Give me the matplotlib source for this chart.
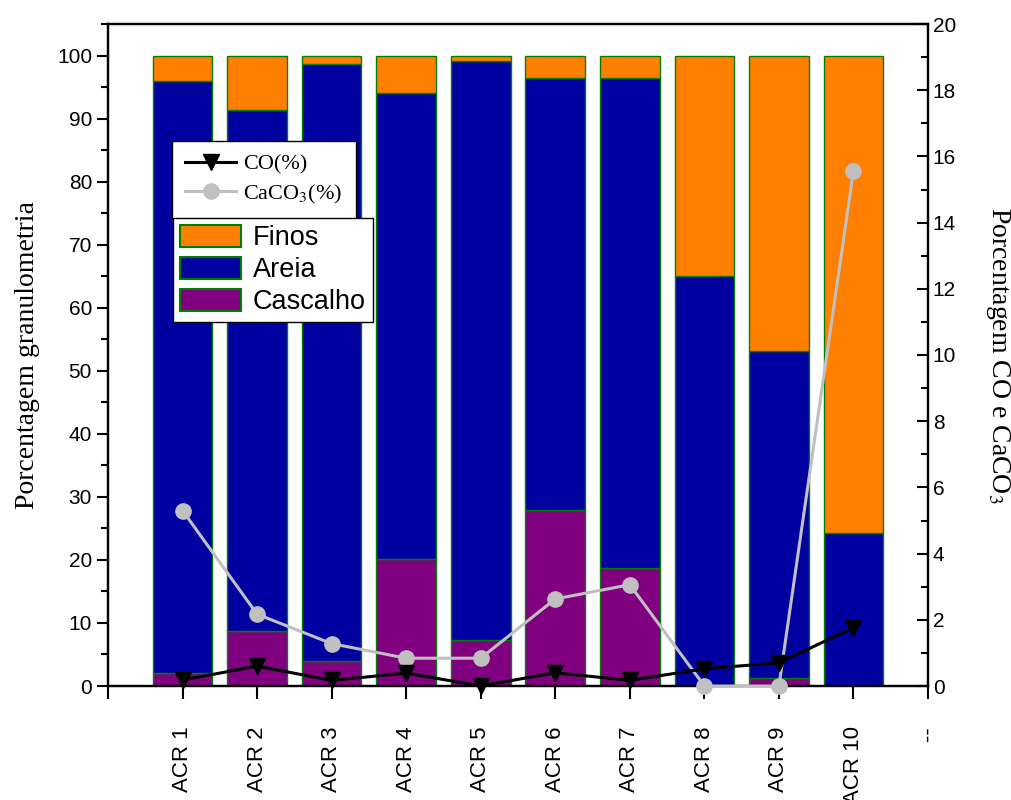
import matplotlib
matplotlib.use('Agg')
import matplotlib.pyplot as plt
import numpy as np
from matplotlib.patches import Patch
from matplotlib.lines import Line2D
from matplotlib.ticker import MultipleLocator

plt.rcParams['font.family'] = 'Liberation Sans'
plt.rcParams['mathtext.fontset'] = 'stix'

# data
amostras = ['ACR 1', 'ACR 2', 'ACR 3', 'ACR 4', 'ACR 5',
            'ACR 6', 'ACR 7', 'ACR 8', 'ACR 9', 'ACR 10']
cascalho = [2.1, 8.8, 4.0, 20.2, 7.3, 27.9, 18.7, 0.0, 1.2, 0.0]
areia = [93.8, 82.5, 94.7, 73.8, 91.9, 68.6, 77.8, 65.1, 52.0, 24.3]
finos = [4.1, 8.7, 1.3, 6.0, 0.8, 3.5, 3.5, 34.9, 46.8, 75.7]
co = [0.18, 0.6, 0.17, 0.39, 0.0, 0.4, 0.17, 0.52, 0.7, 1.76]
caco3 = [5.3, 2.17, 1.28, 0.84, 0.84, 2.63, 3.06, 0.0, 0.0, 15.56]

x = np.arange(1, len(amostras) + 1)
base_finos = np.array(cascalho) + np.array(areia)

fig = plt.figure(figsize=(10.12, 8), dpi=100)
ax = fig.add_axes([108 / 1012, 1 - 686 / 800, 820 / 1012, 662 / 800])

edge = '#008000'
ax.bar(x, cascalho, width=0.8, color='#800080', edgecolor=edge, linewidth=1)
ax.bar(x, areia, width=0.8, bottom=cascalho, color='#0000A0', edgecolor=edge, linewidth=1)
ax.bar(x, finos, width=0.8, bottom=base_finos, color='#FF8000', edgecolor=edge, linewidth=1)

ax.set_xlim(0, 11)
ax.set_ylim(0, 105)
ax.set_xticks(np.arange(0, 12))
ax.set_xticklabels([''] + amostras + ['--'], rotation=90, fontsize=16)
ax.yaxis.set_major_locator(MultipleLocator(10))
ax.yaxis.set_minor_locator(MultipleLocator(5))
ax.tick_params(axis='y', which='major', direction='out', length=8, width=1.5, labelsize=15)
ax.tick_params(axis='y', which='minor', direction='out', length=5, width=1.5)
ax.tick_params(axis='x', direction='out', length=9, width=1.5, pad=20)
for s in ax.spines.values():
    s.set_linewidth(1.6)
ax.set_ylabel('Porcentagem granulometria', family='Liberation Serif', fontsize=20, labelpad=12)

ax2 = ax.twinx()
ax2.set_ylim(0, 20)
ax2.yaxis.set_major_locator(MultipleLocator(2))
ax2.yaxis.set_minor_locator(MultipleLocator(1))
ax2.tick_params(axis='y', which='major', direction='in', length=8, width=1.5, labelsize=15)
ax2.tick_params(axis='y', which='minor', direction='in', length=5, width=1.5)
for s in ax2.spines.values():
    s.set_linewidth(1.6)
ax2.plot(x, caco3, '-o', color='#C0C0C0', linewidth=2.2, markersize=11, clip_on=False, zorder=3)
ax2.plot(x, co, '-v', color='black', linewidth=2.2, markersize=12, clip_on=False, zorder=4)
ax2.set_ylabel(r'Porcentagem CO e CaCO$_3$', family='Liberation Serif', fontsize=20,
               rotation=270, labelpad=40)

# legends
h_lines = [Line2D([], [], color='black', marker='v', linewidth=2.2, markersize=12),
           Line2D([], [], color='#C0C0C0', marker='o', linewidth=2.2, markersize=11)]
leg1 = ax2.legend(h_lines, ['CO(%)', r'CaCO$_3$(%)'], loc='upper left',
                  bbox_to_anchor=(172 / 1012, 1 - 141 / 800), bbox_transform=fig.transFigure,
                  prop={'family': 'Liberation Serif', 'size': 16}, handlelength=2.3,
                  fancybox=False, framealpha=1, edgecolor='black', borderpad=0.6,
                  borderaxespad=0, labelspacing=0.35, handletextpad=0.3)
leg1.get_frame().set_linewidth(1)

h_bars = [Patch(facecolor='#FF8000', edgecolor=edge, linewidth=1.5),
          Patch(facecolor='#0000A0', edgecolor=edge, linewidth=1.5),
          Patch(facecolor='#800080', edgecolor=edge, linewidth=1.5)]
leg2 = ax2.legend(h_bars, ['Finos', 'Areia', 'Cascalho'], loc='upper left',
                  bbox_to_anchor=(173 / 1012, 1 - 218 / 800), bbox_transform=fig.transFigure,
                  fontsize=19.5, handlelength=2.25, handleheight=0.9,
                  fancybox=False, framealpha=1, edgecolor='black', borderpad=0.25,
                  borderaxespad=0, labelspacing=0.2, handletextpad=0.45)
leg2.get_frame().set_linewidth(1)
ax2.add_artist(leg1)

fig.savefig('out.png', dpi=100)
